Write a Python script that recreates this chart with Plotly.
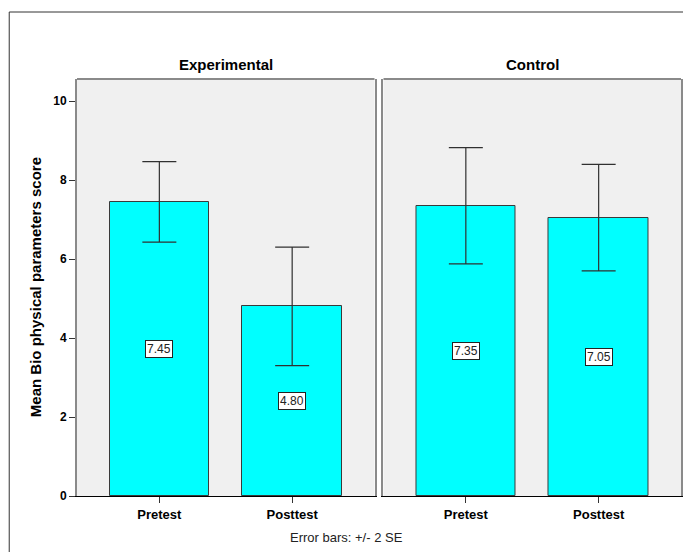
import plotly.graph_objects as go
from plotly.subplots import make_subplots

groups = ["Experimental", "Control"]
tests = ["Pretest", "Posttest"]
exp_means = [7.45, 4.80]
exp_err = [1.02, 1.50]
ctl_means = [7.35, 7.05]
ctl_err = [1.47, 1.35]
y_ticks = [0, 2, 4, 6, 8, 10]

# page has an 8px body margin; size the figure so it fits the 691x552 window
W, H = 683, 544
L, R, T, B = 69, 8, 71, 56
pw = W - L - R
ph = H - T - B
OX, OY = 77, 496  # page coords of plot-area left / bottom

fig = make_subplots(rows=1, cols=2, shared_yaxes=False, horizontal_spacing=9 / pw)

FONT = "Arial, Liberation Sans, sans-serif"
GRAY = "#8a8a8a"

for i, (means, errs) in enumerate([(exp_means, exp_err), (ctl_means, ctl_err)]):
    col = i + 1
    fig.add_trace(
        go.Bar(
            x=tests, y=means, width=0.75,
            marker=dict(color="#00FFFF", line=dict(color="#3a3a3a", width=1)),
            error_y=dict(type="data", array=errs, symmetric=True,
                         color="#303030", thickness=1.2, width=17),
            showlegend=False, hoverinfo="skip",
        ),
        row=1, col=col,
    )
    xa = "x" if i == 0 else "x2"
    ya = "y" if i == 0 else "y2"
    for t, m in zip(tests, means):
        fig.add_annotation(
            x=t, y=m / 2, xref=xa, yref=ya, text=f"{m:.2f}", showarrow=False,
            font=dict(family=FONT, size=12, color="#222"),
            bgcolor="white", bordercolor="#222", borderwidth=1, borderpad=1,
        )
    fig.add_annotation(
        x=0.5, y=1, xref=f"{xa} domain", yref=f"{ya} domain", yanchor="bottom",
        yshift=4, text=f"<b>{groups[i]}</b>", showarrow=False,
        font=dict(family=FONT, size=15, color="black"),
    )
    fig.add_shape(type="line", xref=f"{xa} domain", yref=f"{ya} domain",
                  x0=0, x1=1, y0=1, y1=1, line=dict(color=GRAY, width=2))

fig.update_xaxes(range=[-0.62, 1.62], showline=True, linecolor="black", linewidth=1,
                 ticks="outside", ticklen=6, tickcolor="#333",
                 tickfont=dict(family=FONT, size=13, color="black"),
                 showgrid=False, zeroline=False, tickprefix="<b>", ticksuffix="</b>")

fig.update_yaxes(range=[0, 10.56], showgrid=False, zeroline=False,
                 showline=True, linecolor=GRAY, linewidth=2, mirror=True)
fig.update_yaxes(tickvals=y_ticks, ticktext=[f"<b>{v}</b>" for v in y_ticks],
                 ticks="outside", ticklen=6, tickcolor="#333",
                 tickfont=dict(family=FONT, size=12, color="black"), row=1, col=1)
fig.update_yaxes(showticklabels=False, ticks="", row=1, col=2)

fig.add_annotation(x=(35 - OX) / pw, y=0.5, xref="paper", yref="paper", xshift=-10,
                   text="<b>Mean Bio physical parameters score</b>", textangle=-90,
                   showarrow=False, font=dict(family=FONT, size=15, color="black"))
fig.add_annotation(x=(347 - OX) / pw, y=(OY - 537) / ph, xref="paper", yref="paper",
                   yshift=-10, text="Error bars: +/- 2 SE", showarrow=False,
                   font=dict(family=FONT, size=13, color="#222"))

fig.add_shape(type="rect", xref="paper", yref="paper",
              x0=(9 - OX) / pw, x1=(690 - OX) / pw,
              y0=(OY - 575) / ph, y1=(OY - 12) / ph,
              line=dict(color="#333", width=1))

fig.update_layout(
    width=W, height=H, margin=dict(l=L, r=R, t=T, b=B),
    paper_bgcolor="white", plot_bgcolor="#F0F0F0", bargap=0,
    font=dict(family=FONT),
)

fig.write_html("out.html")
